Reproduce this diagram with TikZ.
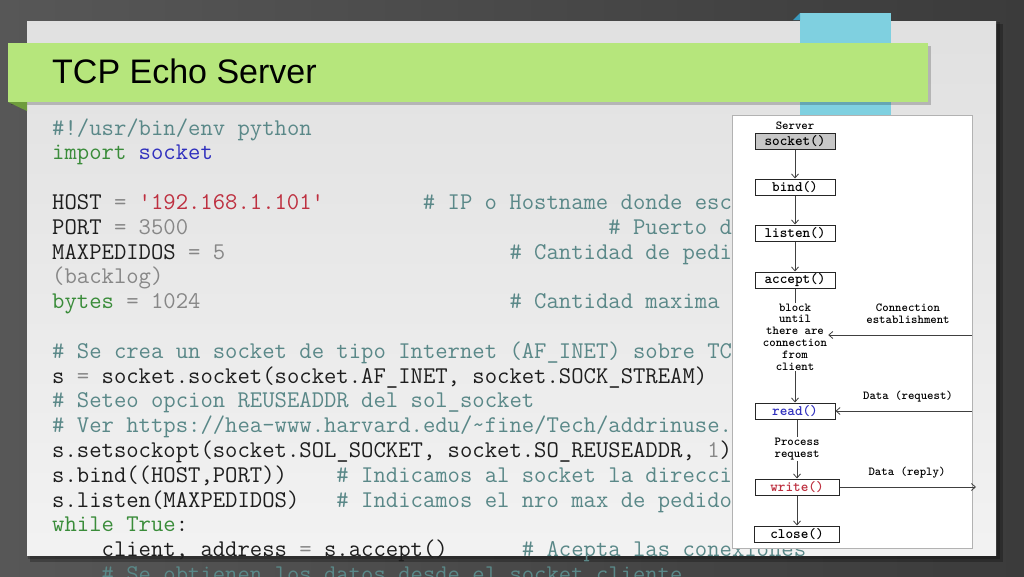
\documentclass[tikz,border=0pt]{standalone}
\usepackage{fontspec}
\usetikzlibrary{arrows.meta}
\newfontfamily\titlefont{Liberation Sans}
\definecolor{bgleft}{HTML}{575757}
\definecolor{bgright}{HTML}{3B3B3B}
\definecolor{titlegreen}{HTML}{B6E67C}
\definecolor{greenfold}{HTML}{6E9C3C}
\definecolor{ribbonblue}{HTML}{7FD0E0}
\definecolor{ribbonfold}{HTML}{3A9CC0}
\definecolor{cmt}{RGB}{90,136,136}
\definecolor{kw}{RGB}{58,140,58}
\definecolor{mod}{RGB}{48,48,190}
\definecolor{str}{RGB}{190,48,64}
\definecolor{num}{RGB}{135,135,135}
\definecolor{ink}{RGB}{30,30,30}
\newcommand{\gap}[1]{\hspace*{#1\fontcharwd\font`M}}
\tikzset{
    codeline/.style={anchor=base west, inner sep=0pt, text=ink, font=\ttfamily\fontsize{24}{26}\selectfont},
    fncbox/.style={draw=black!85, line width=1pt, fill=white, minimum width=80, minimum height=16, inner sep=0pt, font=\ttfamily\bfseries\fontsize{14.5}{15}\selectfont},
    lbl/.style={inner sep=1pt, align=center, font=\ttfamily\bfseries\fontsize{12.2}{11.8}\selectfont},
    wire/.style={draw=black!75, line width=0.8pt},
    flow/.style={wire, -{Straight Barb[length=4pt, width=7pt]}}
}
\begin{document}
\begin{tikzpicture}[x=1pt, y=-1pt]
            \useasboundingbox (0, 0) rectangle (1024, 576);
            \shade[left color=bgleft, right color=bgright] (0, 0) rectangle (1024, 576);
            \fill[black, opacity=0.25] (30, 24) rectangle (1003, 562);
            \fill[black, opacity=0.2] (28, 22) rectangle (1000, 559);
            \shade[top color=black!12, bottom color=black!5] (27, 21) rectangle (996, 555);
            \fill[ribbonblue] (800, 13) rectangle (891, 120);
            \fill[ribbonfold] (793, 20) -- (800, 13) -- (800, 20) -- cycle;
            \fill[black, opacity=0.2] (11, 46) rectangle (931, 105);
            \fill[greenfold] (8, 102) -- (27, 102) -- (27, 111) -- cycle;
            \fill[titlegreen] (8, 43) rectangle (928, 102);
            \node[anchor=base west, inner sep=0pt, font=\titlefont\fontsize{34}{40}\selectfont] (title) at (52, 83) {TCP Echo Server};
            \node[codeline] (l1) at (52, 135.0) {{\color{cmt}\#!/usr/bin/env python}};
            \node[codeline] (l2) at (52, 159.8) {{\color{kw}import} {\color{mod}socket}};
            \node[codeline] (l4) at (52, 209.4) {HOST {\color{num}=} {\color{str}\textquotesingle 192.168.1.101\textquotesingle}\gap{8}{\color{cmt}\# IP o Hostname donde esc}};
            \node[codeline] (l5) at (52, 234.2) {PORT {\color{num}= 3500}\gap{34}{\color{cmt}\# Puerto d}};
            \node[codeline] (l6) at (52, 259.0) {MAXPEDIDOS {\color{num}= 5}\gap{23}{\color{cmt}\# Cantidad de pedi}};
            \node[codeline] (l7) at (52, 283.8) {{\color{num}(backlog)}};
            \node[codeline] (l8) at (52, 308.6) {{\color{kw}bytes} {\color{num}= 1024}\gap{25}{\color{cmt}\# Cantidad maxima}};
            \node[codeline] (l10) at (52, 358.2) {{\color{cmt}\# Se crea un socket de tipo Internet (AF\_INET) sobre TC}};
            \node[codeline] (l11) at (52, 383.0) {s {\color{num}=} socket.socket(socket.AF\_INET, socket.SOCK\_STREAM)};
            \node[codeline] (l12) at (52, 407.8) {{\color{cmt}\# Seteo opcion REUSEADDR del sol\_socket}};
            \node[codeline] (l13) at (52, 432.6) {{\color{cmt}\# Ver https://hea-www.harvard.edu/\textasciitilde fine/Tech/addrinuse.}};
            \node[codeline] (l14) at (52, 457.4) {s.setsockopt(socket.SOL\_SOCKET, socket.SO\_REUSEADDR, {\color{num}1})};
            \node[codeline] (l15) at (52, 482.2) {s.bind((HOST,PORT))\gap{4}{\color{cmt}\# Indicamos al socket la direccio}};
            \node[codeline] (l16) at (52, 507.0) {s.listen(MAXPEDIDOS)\gap{3}{\color{cmt}\# Indicamos el nro max de pedidos}};
            \node[codeline] (l17) at (52, 531.8) {{\color{kw}while True}:};
            \node[codeline] (l18) at (52, 556.6) {\gap{4}client, address {\color{num}=} s.accept()\gap{6}{\color{cmt}\# Acepta las conexiones}};
            \node[codeline] (l19) at (52, 581.4) {\gap{4}{\color{cmt}\# Se obtienen los datos desde el socket cliente}};
            \draw[draw=black!30, fill=white] (732, 115) rectangle (972, 548);
            \node[lbl] (server) at (795, 126) {Server};
            \node[fncbox, fill=black!22] (sock) at (795, 141) {socket()};
            \node[fncbox] (bind) at (795, 187) {bind()};
            \node[fncbox] (listen) at (795, 233) {listen()};
            \node[fncbox] (accept) at (795, 280) {accept()};
            \node[lbl] (block) at (795, 337) {block\\until\\there are\\connection\\from\\client};
            \node[fncbox, text=mod] (read) at (795, 411) {read()};
            \node[lbl] (proc) at (797, 449) {Process\\request};
            \node[fncbox, minimum width=84, text=str] (write) at (797, 487) {write()};
            \node[fncbox, minimum width=85] (close) at (797, 534) {close()};
            \node[lbl] (connlbl) at (908, 314) {Connection\\establishment};
            \node[lbl] (reqlbl) at (908, 397) {Data (request)};
            \node[lbl] (replbl) at (907, 473) {Data (reply)};
            \coordinate (connin) at (972, 335);
            \coordinate (reqin) at (972, 411);
            \coordinate (repout) at (976, 487);
            \draw[flow] (sock) -- (bind);
            \draw[flow] (bind) -- (listen);
            \draw[flow] (listen) -- (accept);
            \draw[wire] (accept) -- (block);
            \draw[flow] (block) -- (read);
            \draw[wire] (read.south -| proc) -- (proc);
            \draw[flow] (proc) -- (write);
            \draw[flow] (write) -- (close);
            \draw[flow] (connin) -- (connin -| block.east);
            \draw[flow] (reqin) -- (read);
            \draw[flow] (write) -- (repout);
\end{tikzpicture}
\end{document}
